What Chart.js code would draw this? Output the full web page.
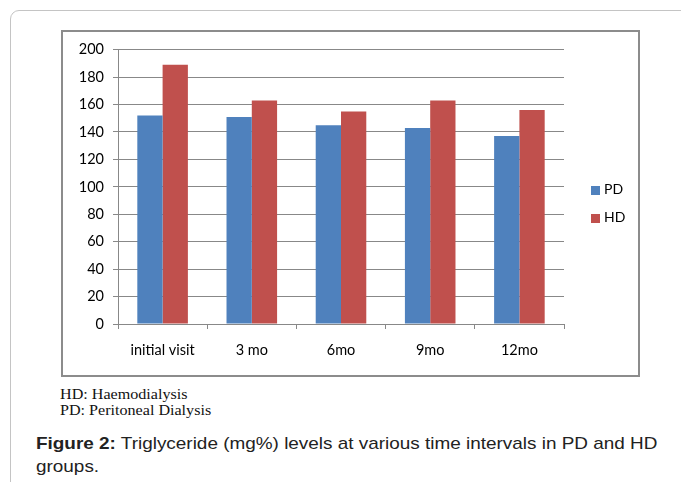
<!DOCTYPE html>
<html>
<head>
<meta charset="utf-8">
<script src="https://cdn.jsdelivr.net/npm/chart.js@4/dist/chart.umd.min.js"></script>
<style>
  body { margin: 0; background: #fff; width: 681px; height: 482px; overflow: hidden; position: relative; }
  #frame { position: absolute; left: 10px; top: 10px; width: 700px; height: 500px;
           border: 1px solid #c4c4c4; border-radius: 9px; }
  #box { position: absolute; left: 61px; top: 30px; width: 575px; height: 343px;
         border: 2px solid #8c8c8c; }
  #box canvas { position: absolute; left: 0; top: 0; }
  .leg { position: absolute; font-family: Lato, sans-serif; font-size: 14px; color: #000; }
  .leg span { display: inline-block; width: 9px; height: 9px; margin-right: 4px; vertical-align: -1px; }
  #notes { position: absolute; left: 60px; top: 387px; font-family: "Liberation Serif", serif;
           font-size: 14px; line-height: 16px; color: #111; transform: scaleX(1.15); transform-origin: 0 0; }
  #caption { position: absolute; left: 36px; top: 432px; font-family: "Liberation Sans", Arial, sans-serif;
             font-size: 17px; line-height: 23px; color: #222; white-space: nowrap;
             transform: scaleX(1.113); transform-origin: 0 0; }
</style>
</head>
<body>
<div id="frame"></div>
<div id="box">
  <canvas id="chart" width="575" height="343"></canvas>
</div>
<div class="leg" style="left:591px; top:180px;"><span style="background:#4F81BD"></span>PD</div>
<div class="leg" style="left:591px; top:208px;"><span style="background:#C0504D"></span>HD</div>
<div id="notes">HD: Haemodialysis<br>PD: Peritoneal Dialysis</div>
<div id="caption"><b>Figure 2:</b> Triglyceride (mg%) levels at various time intervals in PD and HD<br>groups.</div>
<script>
const categories = ['initial visit', '3 mo', '6mo', '9mo', '12mo'];
const pdValues = [152, 151, 145, 143, 137];
const hdValues = [189, 163, 155, 163, 156];
const yTicks = [0, 20, 40, 60, 80, 100, 120, 140, 160, 180, 200];

const tickFont = { family: 'Lato, sans-serif', size: 14.5 };

const ctx = document.getElementById('chart').getContext('2d');
new Chart(ctx, {
    type: 'bar',
    data: {
        labels: categories,
        datasets: [
            { label: 'PD', data: pdValues, backgroundColor: '#4F81BD' },
            { label: 'HD', data: hdValues, backgroundColor: '#C0504D' }
        ]
    },
    options: {
        responsive: false,
        animation: false,
        layout: { padding: { left: 0, right: 74, top: 16, bottom: 0 } },
        plugins: { legend: { display: false }, tooltip: { enabled: false } },
        datasets: { bar: { categoryPercentage: 0.567, barPercentage: 1 } },
        scales: {
            x: {
                grid: { offset: true, drawOnChartArea: false, color: '#888', tickLength: 5 },
                border: { color: '#888' },
                ticks: { color: '#000', font: tickFont, padding: 13, maxRotation: 0 },
                afterFit: scale => { scale.height = 51; }
            },
            y: {
                min: 0,
                max: 200,
                afterBuildTicks: scale => { scale.ticks = yTicks.map(v => ({ value: v })); },
                grid: { color: '#888', tickLength: 5 },
                border: { color: '#888' },
                ticks: { color: '#000', font: tickFont, padding: 9 },
                afterFit: scale => { scale.width = 55; }
            }
        }
    }
});
</script>
</body>
</html>
